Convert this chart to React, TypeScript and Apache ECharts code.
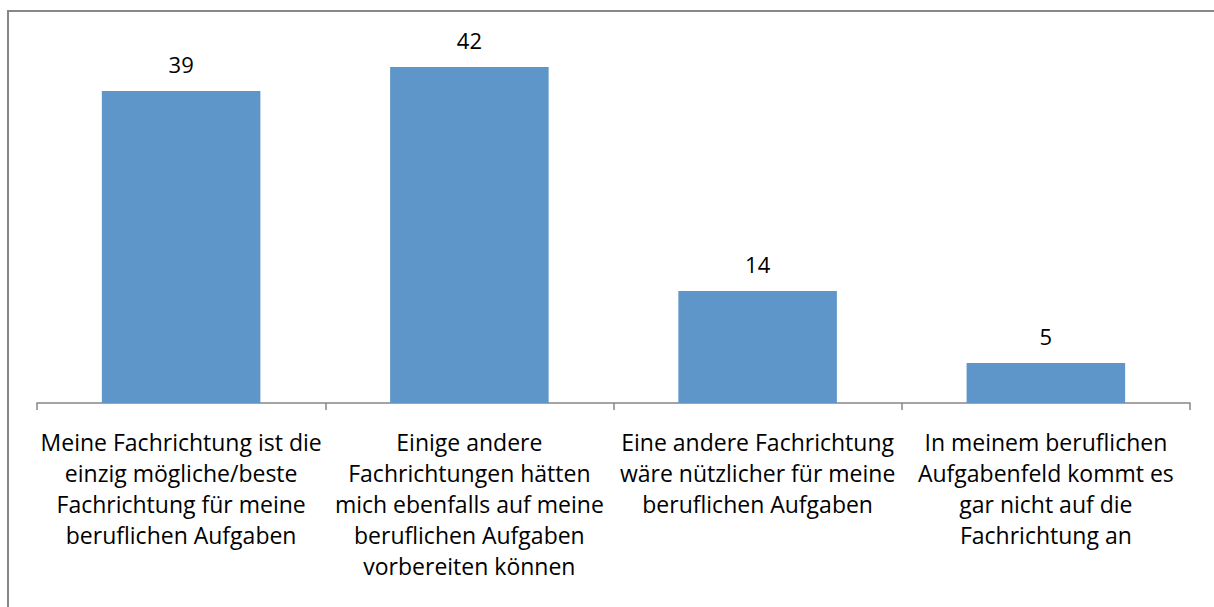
import React, { useEffect, useRef } from "react";
import * as echarts from "echarts";

const categories = [
  "Meine Fachrichtung ist die\neinzig mögliche/beste\nFachrichtung für meine\nberuflichen Aufgaben",
  "Einige andere\nFachrichtungen hätten\nmich ebenfalls auf meine\nberuflichen Aufgaben\nvorbereiten können",
  "Eine andere Fachrichtung\nwäre nützlicher für meine\nberuflichen Aufgaben",
  "In meinem beruflichen\nAufgabenfeld kommt es\ngar nicht auf die\nFachrichtung an",
];
const values = [39, 42, 14, 5];

export default function App() {
  const ref = useRef<HTMLDivElement>(null);
  useEffect(() => {
    if (!ref.current) return;
    const chart = echarts.init(ref.current, null, { renderer: "svg" });
    const font = "'Open Sans', sans-serif";
    chart.setOption({
      animation: false,
      backgroundColor: "#ffffff",
      graphic: [
        {
          type: "polyline",
          shape: { points: [[8, 607], [8, 11], [1214, 11]] },
          style: { fill: "none", stroke: "#878787", lineWidth: 2 },
          silent: true,
        },
      ],
      grid: { left: 37, right: 24, top: 43, bottom: 204, containLabel: false },
      xAxis: {
        type: "category",
        data: categories,
        axisLine: { lineStyle: { color: "#868686", width: 1.5 } },
        axisTick: { show: true, length: 7, lineStyle: { color: "#868686", width: 1.5 } },
        axisLabel: {
          interval: 0,
          margin: 23.5,
          color: "#000000",
          fontSize: 23,
          lineHeight: 31,
          fontFamily: font,
          align: "center",
        },
      },
      yAxis: {
        type: "value",
        min: 0,
        max: 45,
        show: false,
        splitLine: { show: false },
      },
      series: [
        {
          type: "bar",
          data: values,
          barWidth: "55%",
          itemStyle: { color: "#5F96C9" },
          label: {
            show: true,
            position: "top",
            distance: 16.5,
            color: "#000000",
            fontSize: 22,
            fontFamily: font,
          },
        },
      ],
    });
    return () => chart.dispose();
  }, []);
  return (
    <div
      ref={ref}
      style={{ position: "absolute", left: 0, top: 0, width: 1214, height: 607, overflow: "hidden" }}
    />
  );
}
